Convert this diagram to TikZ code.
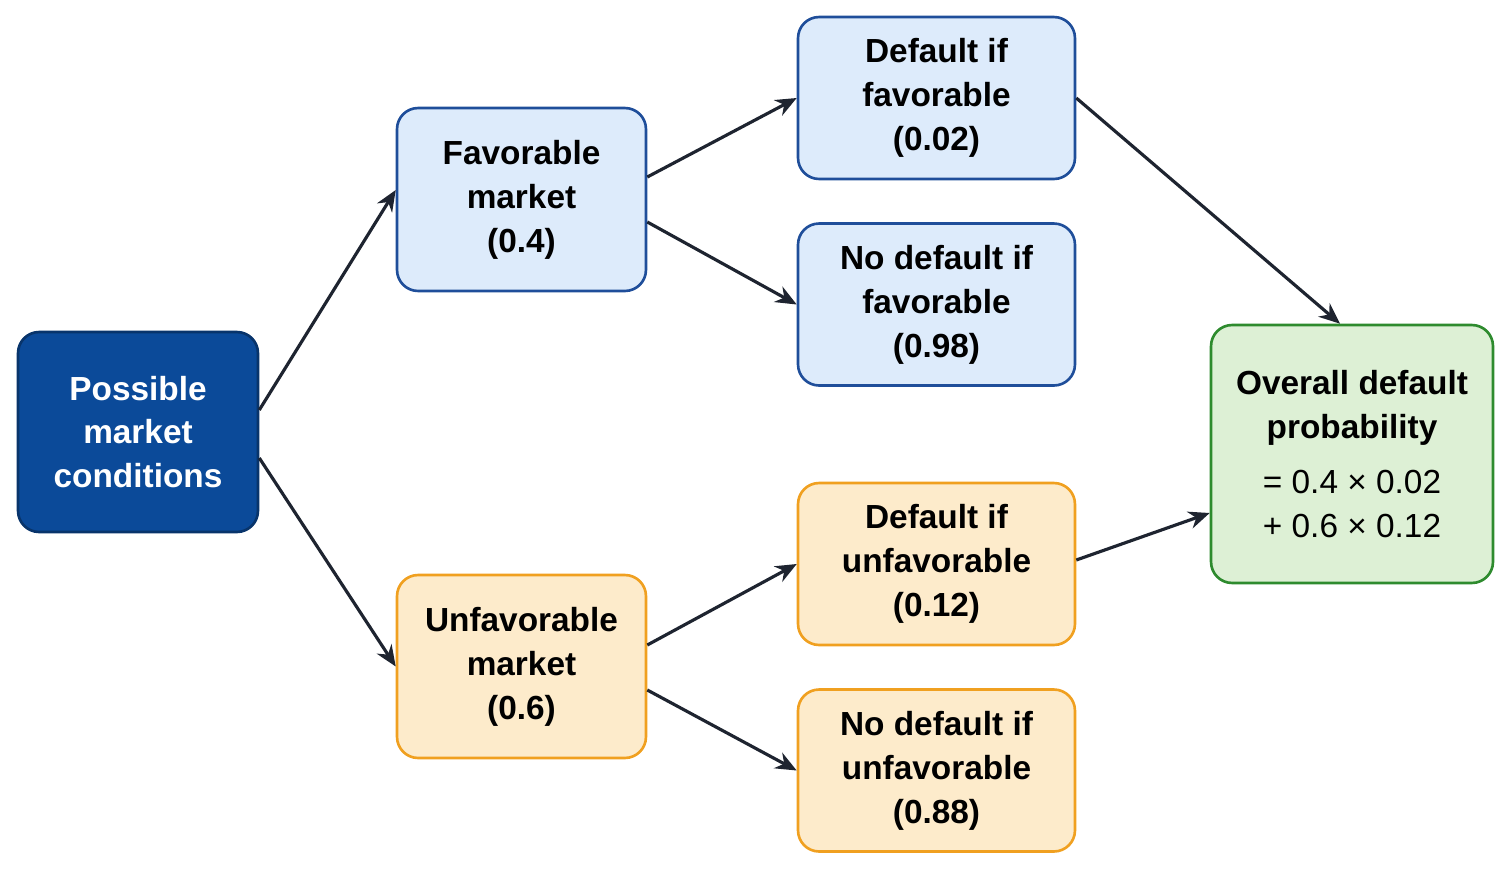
\documentclass[tikz,border=0pt]{standalone}
\usepackage{fontspec}
\setmainfont{Liberation Sans}
\usetikzlibrary{positioning}
\usetikzlibrary{arrows.meta}
\definecolor{rootfill}{HTML}{0B4A99}
\definecolor{blueline}{HTML}{1F4E9A}
\definecolor{bluefill}{HTML}{DDEBFB}
\definecolor{orangeline}{HTML}{F0A020}
\definecolor{orangefill}{HTML}{FDEBCB}
\definecolor{greenline}{HTML}{2E8B2E}
\definecolor{greenfill}{HTML}{DDF0D5}
\definecolor{arrowcol}{HTML}{1E2430}
\begin{document}
\begin{tikzpicture}[x=0.02cm, y=-0.02cm, -> , >={Stealth[length=12pt,width=10pt]}, line width=1.8pt,
    box/.style={rectangle, rounded corners=12pt, draw, line width=1.5pt, align=center,
      font=\fontsize{19}{25}\selectfont\bfseries},
    root/.style={box, fill=rootfill, draw=rootfill!70!black, text=white, minimum width=4.8cm, minimum height=4cm},
    fav/.style={box, fill=bluefill, draw=blueline},
    unfav/.style={box, fill=orangefill, draw=orangeline},
    mid/.style={minimum width=4.98cm, minimum height=3.66cm},
    leaf/.style={minimum width=5.54cm, minimum height=3.24cm},
    link/.style={draw=arrowcol}]
    \useasboundingbox (0,0) rectangle (1511,869);
        \node [root] (cond) at (138,432) {Possible\\market\\conditions};
        \node [fav, mid] (favm) at (521.5,199.5) {Favorable\\market\\(0.4)};
        \node [unfav, mid] (unfm) at (521.5,666.5) {Unfavorable\\market\\(0.6)};
        \node [fav, leaf] (dfav) at (936.5,98) {Default if\\favorable\\(0.02)};
        \node [fav, leaf] (ndfav) at (936.5,304.5) {No default if\\favorable\\(0.98)};
        \node [unfav, leaf] (dunf) at (936.5,564) {Default if\\unfavorable\\(0.12)};
        \node [unfav, leaf] (ndunf) at (936.5,770.5) {No default if\\unfavorable\\(0.88)};
        \node [box, fill=greenfill, draw=greenline, minimum width=5.64cm, minimum height=5.16cm]
            (total) at (1352,454) {Overall default\\probability\\[6pt]
            {\mdseries = 0.4 × 0.02}\\{\mdseries + 0.6 × 0.12}};

        \draw [link] ([yshift=0.44cm]cond.east) -- ([yshift=0.19cm]favm.west);
        \draw [link] ([yshift=-0.52cm]cond.east) -- (unfm.west);
        \draw [link] ([yshift=0.45cm]favm.east) -- (dfav.west);
        \draw [link] ([yshift=-0.45cm]favm.east) -- (ndfav.west);
        \draw [link] ([yshift=0.43cm]unfm.east) -- (dunf.west);
        \draw [link] ([yshift=-0.47cm]unfm.east) -- (ndunf.west);
        \draw [link] (dfav.east) -- ([xshift=-0.24cm]total.north);
        \draw [link] ([yshift=0.08cm]dunf.east) -- ([yshift=-1.18cm]total.west);
    \end{tikzpicture}
\end{document}
